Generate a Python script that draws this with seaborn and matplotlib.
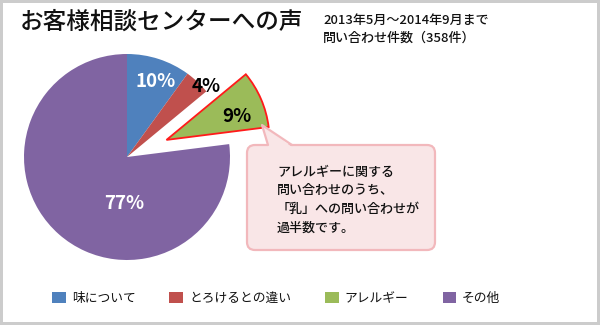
import matplotlib
matplotlib.use("Agg")
import numpy as np
import matplotlib.pyplot as plt
import seaborn as sns
from matplotlib.patches import FancyBboxPatch, Polygon, Rectangle, Patch
from matplotlib.lines import Line2D

# ---------------- data ----------------
categories = ["味について", "とろけるとの違い", "アレルギー", "その他"]
values = [10, 4, 9, 77]
pct_labels = [f"{v}%" for v in values]
title = "お客様相談センターへの声"
subtitle_lines = ["2013年5月～2014年9月まで", "問い合わせ件数（358件）"]
note_lines = ["アレルギーに関する", "問い合わせのうち、", "「乳」への問い合わせが", "過半数です。"]

# ---------------- style ----------------
sns.set_theme(style="white")
plt.rcParams['font.family'] = ['Noto Sans CJK JP', 'DejaVu Sans']
colors = ["#4F81BD", "#C0504D", "#9BBB59", "#8064A2"]
label_colors = ["white", "black", "black", "white"]
label_dist = [0.78, 1.03, 0.72, 0.45]
label_angle_shift = [-2.5, -5.0, -4.7, 37.6]
txt_c = "#111111"

W, H = 600, 325
fig = plt.figure(figsize=(6, 3.25), dpi=100)
fig.patch.set_facecolor("white")
ax = fig.add_axes([0, 0, 1, 1])


def Y(y):
    return H - y


cx, cy, r = 127, Y(157), 103
explode = [0, 0, 43, 0]
wedges, _ = ax.pie(values, colors=colors, startangle=90, counterclock=False,
                   explode=explode, radius=r, center=(cx, cy),
                   wedgeprops=dict(linewidth=0))
wedges[2].set_edgecolor("#FF1a1a")
wedges[2].set_linewidth(1.3)

for w, lab, col, d, sh in zip(wedges, pct_labels, label_colors, label_dist, label_angle_shift):
    th = np.deg2rad((w.theta1 + w.theta2) / 2 + sh)
    x0, y0 = w.center
    ax.text(x0 + d * r * np.cos(th), y0 + d * r * np.sin(th), lab,
            ha="center", va="center", fontsize=13.5, fontweight="bold",
            color=col, zorder=5)

ax.set_aspect("auto")
ax.set_xlim(0, W)
ax.set_ylim(0, H)
ax.axis("off")

# title & subtitle
ax.text(20, Y(22), title, fontsize=17, ha="left", va="center", color=txt_c, fontweight=500)
for i, line in enumerate(subtitle_lines):
    ax.text(323, Y(20 + 18.5 * i), line, fontsize=9.4, ha="left", va="center",
            color=txt_c, fontweight=500)

# callout
fill_c, edge_c = "#F9E6E7", "#F2B8BC"
bx0, by0, bx1, by1 = 247, 145, 435, 250
box = FancyBboxPatch((bx0, Y(by1)), bx1 - bx0, by1 - by0,
                     boxstyle="round,pad=0,rounding_size=8",
                     fc=fill_c, ec=edge_c, lw=1.6, zorder=6)
ax.add_patch(box)
tip = (262, Y(125))
pl, pr = 268, 292
ax.add_patch(Polygon([(pl, Y(by0 + 2)), tip, (pr, Y(by0 + 2))], closed=True,
                     fc=fill_c, ec="none", zorder=7))
ax.add_line(Line2D([pl, tip[0], pr], [Y(by0), tip[1], Y(by0)], color=edge_c,
                   lw=1.6, zorder=8, solid_joinstyle="round"))
for i, line in enumerate(note_lines):
    ax.text(277, Y(172 + 18.8 * i), line, fontsize=9.4, ha="left", va="center",
            color=txt_c, zorder=9, fontweight=500)

# legend
handles = [Patch(facecolor=c, edgecolor="none") for c in colors]
leg = fig.legend(handles, categories, loc="center left", bbox_to_anchor=(52 / W, Y(298.5) / H),
                 ncol=4, frameon=False, fontsize=9.2, borderpad=0, borderaxespad=0,
                 handlelength=1.07, handleheight=1.0, handletextpad=0.47,
                 columnspacing=2.66)
for t in leg.get_texts():
    t.set_color(txt_c)

# grey frame
fig.patches.append(Rectangle((0, 0), 1, 1, transform=fig.transFigure, fill=False,
                             ec="#CCCCCC", lw=4.3))

fig.savefig("out.png", dpi=100)
